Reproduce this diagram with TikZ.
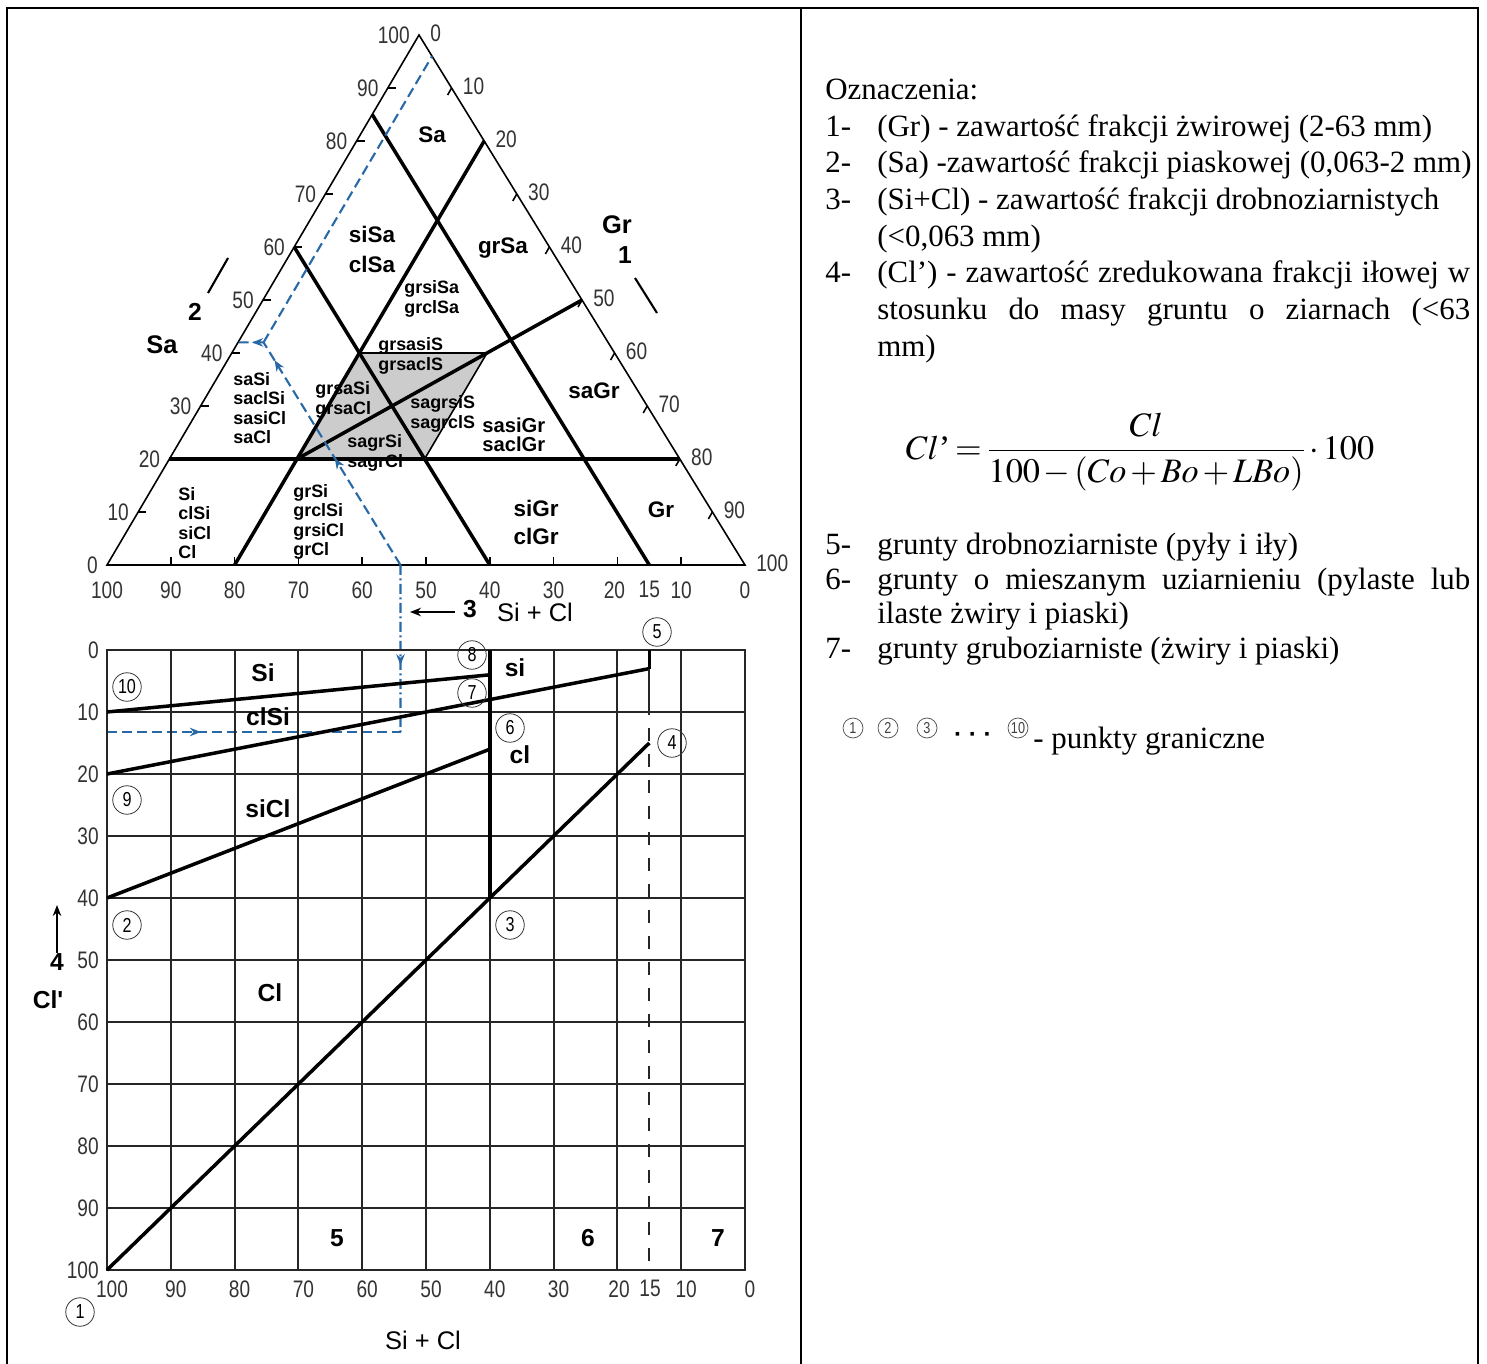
\documentclass[tikz,border=0pt]{standalone}
\usepackage{mathptmx}
\usepackage[no-math]{fontspec}
\setmainfont{Liberation Serif}
\newfontfamily\arialfont{Liberation Sans}
\newfontfamily\numfont[FakeStretch=0.8]{Liberation Sans}
\usetikzlibrary{arrows.meta,decorations.markings}
\definecolor{blueread}{RGB}{40,105,165}

\tikzset{
  numlbl/.style={font=\numfont\fontsize{13.6}{14}\selectfont, text=black!80, inner sep=0pt},
  zonelbl/.style={font=\arialfont\bfseries\fontsize{12.8}{13}\selectfont, inner sep=0pt},
  zonesm/.style={font=\arialfont\bfseries\fontsize{10.2}{11}\selectfont, inner sep=0pt, align=left, anchor=west},
  chartlbl/.style={font=\arialfont\bfseries\fontsize{14}{14}\selectfont, inner sep=0pt},
  axislbl/.style={font=\arialfont\fontsize{14.5}{15}\selectfont, inner sep=0pt},
  pkt/.style={circle, draw=black!80, line width=0.45pt, inner sep=0pt, minimum size=0.57cm, font=\numfont\fontsize{11.5}{12}\selectfont},
  pktsm/.style={circle, draw=black!70, line width=0.4pt, inner sep=0pt, minimum size=0.4cm, font=\numfont\fontsize{9}{9}\selectfont, text=black!75},
  thickln/.style={line width=2pt},
  thinln/.style={line width=0.9pt},
  gridln/.style={line width=1.1pt, black!85},
  readln/.style={color=blueread, line width=1.2pt, dash pattern=on 0.2cm off 0.1cm},
  txt/.style={font=\fontsize{17.6}{20}\selectfont, inner sep=0pt, anchor=base west},
}

\begin{document}
\begin{tikzpicture}[x=0.02cm, y=-0.02cm]
    \useasboundingbox (0,0) rectangle (1487,1364);
    % frame
    \path[draw, line width=1.5pt](7,1364)--(7,8)--(1478,8)--(1478,1364);
    \path[draw, line width=1.5pt](801,8)--(801,1364);

    % triangle (weights: sand, fines, gravel)
    \coordinate (sa) at (419,35);
    \coordinate (fi) at (107,565);
    \coordinate (gr) at (745,565);
    \fill[black!20](barycentric cs:sa=.4,fi=.4,gr=.2)--(barycentric cs:sa=.4,fi=.2,gr=.4)
        --(barycentric cs:sa=.2,fi=.4,gr=.4)--(barycentric cs:sa=.2,fi=.6,gr=.2)--cycle;
    \path[draw, thinln](sa)--(fi)--(gr)--cycle;
    \foreach \v [evaluate=\v as \a using {\v/100}, evaluate=\v as \b using {1-\v/100}] in {10,20,...,90}
    {
        \path[draw, thinln](barycentric cs:sa=\a,fi=\b,gr=0)--++(8,0);
        \path[draw, thinln](barycentric cs:sa=\b,fi=0,gr=\a)--++(-4,7);
        \path[draw, thinln](barycentric cs:sa=0,fi=\a,gr=\b)--++(0,-8);
    }
    \foreach \v [evaluate=\v as \a using {\v/100}, evaluate=\v as \b using {1-\v/100}] in {0,10,...,100}
    {
        \node[numlbl, anchor=east, xshift=-0.18cm] (lsa\v) at (barycentric cs:sa=\a,fi=\b,gr=0) {\v};
        \node[numlbl, anchor=west, xshift=0.22cm, yshift=0.04cm] (rgr\v) at (barycentric cs:sa=\b,fi=0,gr=\a) {\v};
    }
    \foreach \v [evaluate=\v as \a using {\v/100}, evaluate=\v as \b using {1-\v/100}] in {100,90,...,30,10,0}
        \node[numlbl, anchor=north, yshift=-0.32cm] (bfi\v) at (barycentric cs:sa=0,fi=\a,gr=\b) {\v};
    \node[numlbl, anchor=north, yshift=-0.32cm, xshift=-0.06cm] (bfi20) at (barycentric cs:sa=0,fi=.2,gr=.8) {20};
    \node[numlbl, anchor=north, yshift=-0.32cm] (bfi15) at (barycentric cs:sa=0,fi=.15,gr=.85) {15};

    % boundaries
    \path[draw, thickln](barycentric cs:sa=.2,fi=.8,gr=0)--(barycentric cs:sa=.2,fi=0,gr=.8);
    \path[draw, thickln](barycentric cs:sa=0,fi=.8,gr=.2)--(barycentric cs:sa=.8,fi=0,gr=.2);
    \path[draw, thickln](barycentric cs:sa=.85,fi=.15,gr=0)--(barycentric cs:sa=0,fi=.15,gr=.85);
    \path[draw, thickln](barycentric cs:sa=.6,fi=.4,gr=0)--(barycentric cs:sa=0,fi=.4,gr=.6);
    \path[draw, thickln](barycentric cs:sa=.5,fi=0,gr=.5)--(barycentric cs:sa=.2,fi=.6,gr=.2);
    \path[draw, thinln](barycentric cs:sa=.4,fi=.4,gr=.2)--(barycentric cs:sa=.4,fi=.2,gr=.4)
        --(barycentric cs:sa=.2,fi=.4,gr=.4);

    % zone names
    \node[zonelbl] (zsa) at (432,135) {Sa};
    \node[zonelbl] (zsisa) at (372,234) {siSa};
    \node[zonelbl] (zclsa) at (372,264) {clSa};
    \node[zonelbl] (zgrsa) at (503,248) {grSa};
    \node[zonelbl] (zsagr) at (594,391) {saGr};
    \node[zonelbl] (zsigr) at (536,508) {siGr};
    \node[zonelbl] (zclgr) at (536,536) {clGr};
    \node[zonelbl] (zgr) at (661,510) {Gr};
    \node[zonesm] (zgrsisa) at (404,299) {grsiSa\\grclSa};
    \node[zonesm] (zgrsasis) at (378,356) {grsasiS\\grsaclS};
    \node[zonesm] (zsasi) at (233,408) {saSi\\saclSi\\sasiCl\\saCl};
    \node[zonesm] (zgrsasi) at (315,400) {grsaSi\\grsaCl};
    \node[zonesm] (zsagrsis) at (410,414) {sagrsiS\\sagrclS};
    \node[zonesm] (zsagrsi) at (347,453) {sagrSi\\sagrCl};
    \node[zonelbl, align=left, anchor=west, font=\arialfont\bfseries\fontsize{11.5}{11}\selectfont] (zsasigr) at (482,435) {sasiGr\\saclGr};
    \node[zonesm] (zsi) at (178,523) {Si\\clSi\\siCl\\Cl};
    \node[zonesm] (zgrsi) at (293,522) {grSi\\grclSi\\grsiCl\\grCl};

    % axis names
    \node[chartlbl, font=\arialfont\bfseries\fontsize{14.5}{15}\selectfont] (nsa) at (162,345) {Sa};
    \node[chartlbl] (n2) at (195,312) {2};
    \path[draw, line width=1.2pt](208,293)--(228,258);
    \node[chartlbl, font=\arialfont\bfseries\fontsize{14.5}{15}\selectfont] (ngr) at (617,225) {Gr};
    \node[chartlbl] (n1) at (625,255) {1};
    \path[draw, line width=1.2pt](635,278)--(657,313);
    \coordinate (a3s) at (455,612);
    \coordinate (a3e) at (410,612);
    \path[draw, line width=1.3pt, -{Stealth[length=0.22cm, width=0.17cm]}](a3s)--(a3e);
    \node[chartlbl] (n3) at (470,609) {3};
    \node[axislbl] (nsicl) at (535,612) {Si + Cl};

    % reading path
    \coordinate (q0) at (barycentric cs:sa=0,fi=.54,gr=.46);
    \coordinate (pt) at (barycentric cs:sa=.42,fi=.54,gr=.04);
    \coordinate (ql) at (barycentric cs:sa=.42,fi=.58,gr=0);
    \coordinate (qr) at (barycentric cs:sa=.96,fi=0,gr=.04);
    \coordinate (cr) at (400.5,732);
    \coordinate (cl) at (107,732);
    \draw[readln, postaction={decorate}, decoration={markings,
        mark=at position 0.48 with {\arrow{Stealth[length=0.22cm, width=0.17cm]}},
        mark=at position 0.92 with {\arrow{Stealth[length=0.22cm, width=0.17cm]}}}](q0)--(pt);
    \draw[readln, postaction={decorate}, decoration={markings,
        mark=at position 0.45 with {\arrow{Stealth[length=0.22cm, width=0.17cm]}}}](pt)--(ql);
    \draw[readln](pt)--(qr);
    \draw[readln, dash pattern=on 0.2cm off 0.07cm on 0.04cm off 0.07cm, postaction={decorate}, decoration={markings,
        mark=at position 0.6 with {\arrow{Stealth[length=0.22cm, width=0.17cm]}}}](q0)--(cr);
    \draw[readln, postaction={decorate}, decoration={markings,
        mark=at position 0.32 with {\arrow{Stealth[length=0.22cm, width=0.17cm]}}}](cl)--(cr);

    % chart grid
    \foreach \c in {10,20,...,90}
        \path[draw, gridln](107,{650+6.2*\c})--(745,{650+6.2*\c});
    \foreach \s in {10,20,...,90}
        \path[draw, gridln]({745-6.38*\s},650)--({745-6.38*\s},1270);
    \path[draw, gridln](107,650) rectangle (745,1270);
    \foreach \c in {0,10,...,100}
        \node[numlbl, anchor=east] (lcl\c) at (99,{650+6.2*\c}) {\c};
    \foreach \s in {100,90,...,30,10,0}
        \node[numlbl, anchor=north] (bsc\s) at ({750-6.38*\s},1280) {\s};
    \node[numlbl, anchor=north] (bsc20) at (619,1280) {20};
    \node[numlbl, anchor=north] (bsc15) at (650,1280) {15};

    % boundary points
    \coordinate (p1) at (107,1270);
    \coordinate (p2) at (107,898);
    \coordinate (p3) at (489.8,898);
    \coordinate (p4) at (649.3,743);
    \coordinate (p5) at (649.3,668.6);
    \coordinate (p6) at (489.8,749.2);
    \coordinate (p7) at (489.8,699.6);
    \coordinate (p8) at (489.8,674.8);
    \coordinate (p9) at (107,774);
    \coordinate (p10) at (107,712);
    \coordinate (s40) at (489.8,650);
    \coordinate (s15) at (649.3,650);
    \path[draw, thickln](p10)--(p8);
    \path[draw, thickln](p9)--(p7)--(p5);
    \path[draw, thickln](p2)--(p6);
    \path[draw, thickln](p1)--(p3)--(p4);
    \path[draw, thickln](s40)--(p3);
    \path[draw, thickln](s15)--(p5);
    \path[draw, gridln](p5)--(649.3,715);
    \path[draw, gridln, dash pattern=on 0.26cm off 0.26cm](649.3,728)--(649.3,1270);

    \node[pkt] (k1) at (80,1312) {1};
    \node[pkt] (k2) at (127,925) {2};
    \node[pkt] (k3) at (510,925) {3};
    \node[pkt] (k4) at (672,743) {4};
    \node[pkt] (k5) at (657,632) {5};
    \node[pkt] (k6) at (510,728) {6};
    \node[pkt] (k7) at (472,693) {7};
    \node[pkt] (k8) at (472,655) {8};
    \node[pkt] (k9) at (127,800) {9};
    \node[pkt] (k10) at (127,687) {10};

    % chart names
    \node[chartlbl] (csi) at (263,673) {Si};
    \node[chartlbl] (cclsi) at (268,717) {clSi};
    \node[chartlbl] (csicl) at (268,809) {siCl};
    \node[chartlbl] (ccl) at (270,993) {Cl};
    \node[chartlbl] (csm) at (515,668) {si};
    \node[chartlbl] (cclm) at (520,755) {cl};
    \node[chartlbl] (c5) at (337,1238) {5};
    \node[chartlbl] (c6) at (588,1238) {6};
    \node[chartlbl] (c7) at (718,1238) {7};
    \node[chartlbl] (n4) at (57,962) {4};
    \coordinate (a4e) at (57,905);
    \path[draw, line width=1.3pt, -{Stealth[length=0.22cm, width=0.17cm]}](n4.north)--(a4e);
    \node[chartlbl] (ncl) at (48,1000) {Cl'};
    \node[axislbl] (nsicl2) at (423,1340) {Si + Cl};

    % legend
    \node[txt] (ozn) at (825,100) {Oznaczenia:};
    \node[txt] (i1) at (825,137) {1-};
    \node[txt] (t1) at (877,137) {(Gr) - zawartość frakcji żwirowej (2-63 mm)};
    \node[txt] (i2) at (825,173) {2-};
    \node[txt] (t2) at (877,173) {(Sa) -zawartość frakcji piaskowej (0,063-2 mm)};
    \node[txt] (i3) at (825,210) {3-};
    \node[txt] (t3) at (877,210) {(Si+Cl) - zawartość frakcji drobnoziarnistych};
    \node[txt] (t3b) at (877,247) {(<0,063 mm)};
    \node[txt] (i4) at (825,283) {4-};
    \node[txt] (t4) at (877,283) {\makebox[11.86cm][s]{(Cl’) - zawartość zredukowana frakcji iłowej w}};
    \node[txt] (t4b) at (877,320) {\makebox[11.86cm][s]{stosunku do masy gruntu o ziarnach (<63}};
    \node[txt] (t4c) at (877,357) {mm)};
    \node (wzor) at (1140,452) {\fontsize{19.5}{24}\selectfont\medmuskip=2mu\thickmuskip=2.5mu
        $\displaystyle Cl\mbox{'}=\frac{Cl}{100-(Co+Bo+LBo)}\cdot 100$};
    \node[txt] (i5) at (825,555) {5-};
    \node[txt] (t5) at (877,555) {grunty drobnoziarniste (pyły i iły)};
    \node[txt] (i6) at (825,590) {6-};
    \node[txt] (t6) at (877,590) {\makebox[11.86cm][s]{grunty o mieszanym uziarnieniu (pylaste lub}};
    \node[txt] (t6b) at (877,623) {ilaste żwiry i piaski)};
    \node[txt] (i7) at (825,658) {7-};
    \node[txt] (t7) at (877,658) {grunty gruboziarniste (żwiry i piaski)};
    \node[pktsm] (g1) at (853,728) {1};
    \node[pktsm] (g2) at (888,728) {2};
    \node[pktsm] (g3) at (927,728) {3};
    \node[inner sep=0pt, font=\arialfont\bfseries\fontsize{14}{14}\selectfont] (gdots) at (973,737) {·\hspace{0.13cm}·\hspace{0.13cm}·};
    \node[pktsm] (g10) at (1018,728) {10};
    \node[txt] (gtxt) at (1033,748) {- punkty graniczne};
\end{tikzpicture}
\end{document}
